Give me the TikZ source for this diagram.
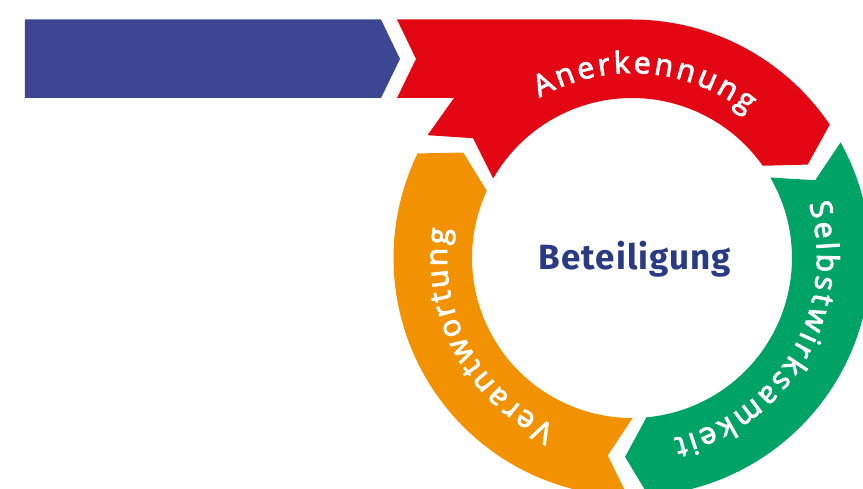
\documentclass[tikz,border=0pt]{standalone}
\usepackage{fontspec}
\usetikzlibrary{decorations.text}

\newfontfamily\labelfont{Open Sans}[FakeBold=3]
\newfontfamily\centerfont{Fira Sans}[LetterSpace=3]

\definecolor{arrowblue}{HTML}{3C4693}
\definecolor{ringred}{HTML}{E30613}
\definecolor{ringgreen}{HTML}{00A366}
\definecolor{ringorange}{HTML}{F39200}
\definecolor{titleblue}{HTML}{2B3A84}

\newcommand\ringfont{\labelfont\fontsize{30}{34}\selectfont}

\tikzset{
  ringlabel/.style={decorate, decoration={text along path,
      text={|\ringfont|#1},
      text color=white, text align={fit to path}}},
  centerlabel/.style={text=titleblue, anchor=base,
      font=\centerfont\bfseries\fontsize{35}{40}\selectfont},
}

\begin{document}
\begin{tikzpicture}[x=1pt,y=1pt]
    \useasboundingbox (-632,-231) rectangle (231,258);
    \clip (-632,-231) rectangle (231,258);

    % feeder arrow
    \fill[arrowblue] (-607,238.5) -- (-251,238.5) -- (-232,199) -- (-251,160)
        -- (-607,160) -- cycle;

    % ring segments (tail notch -> head tip, clockwise)
    \fill[ringred] (-235,238.5) -- (0,238.5)
        arc[start angle=90, end angle=34, radius=238.5] -- (28:199)
        -- (35.2:160) arc[start angle=35.2, end angle=150.2, radius=160]
        -- (143:199) -- (149:238.5) -- (-178,160) -- (-235,160)
        -- (-216,199) -- cycle;
    \fill[ringgreen] (29:238.5)
        arc[start angle=29, end angle=-86, radius=238.5] -- (-92:199)
        -- (-84.8:160) arc[start angle=-84.8, end angle=30.2, radius=160]
        -- (23:199) -- cycle;
    \fill[ringorange] (-91:238.5)
        arc[start angle=-91, end angle=-206, radius=238.5] -- (-212:199)
        -- (-204.8:160) arc[start angle=-204.8, end angle=-89.8, radius=160]
        -- (-97:199) -- cycle;

    % labels on the ring
    \path[ringlabel=Anerkennung] (120:185)
        arc[start angle=120, end angle=51.5, radius=185];
    \path[ringlabel=Selbstwirksamkeit] (17:185)
        arc[start angle=17, end angle=-77, radius=185];
    \path[ringlabel=Verantwortung] (245.5:185)
        arc[start angle=245.5, end angle=171, radius=185];

    \node[centerlabel] (mitte) at (3,-11.3) {Beteiligung};
\end{tikzpicture}
\end{document}
